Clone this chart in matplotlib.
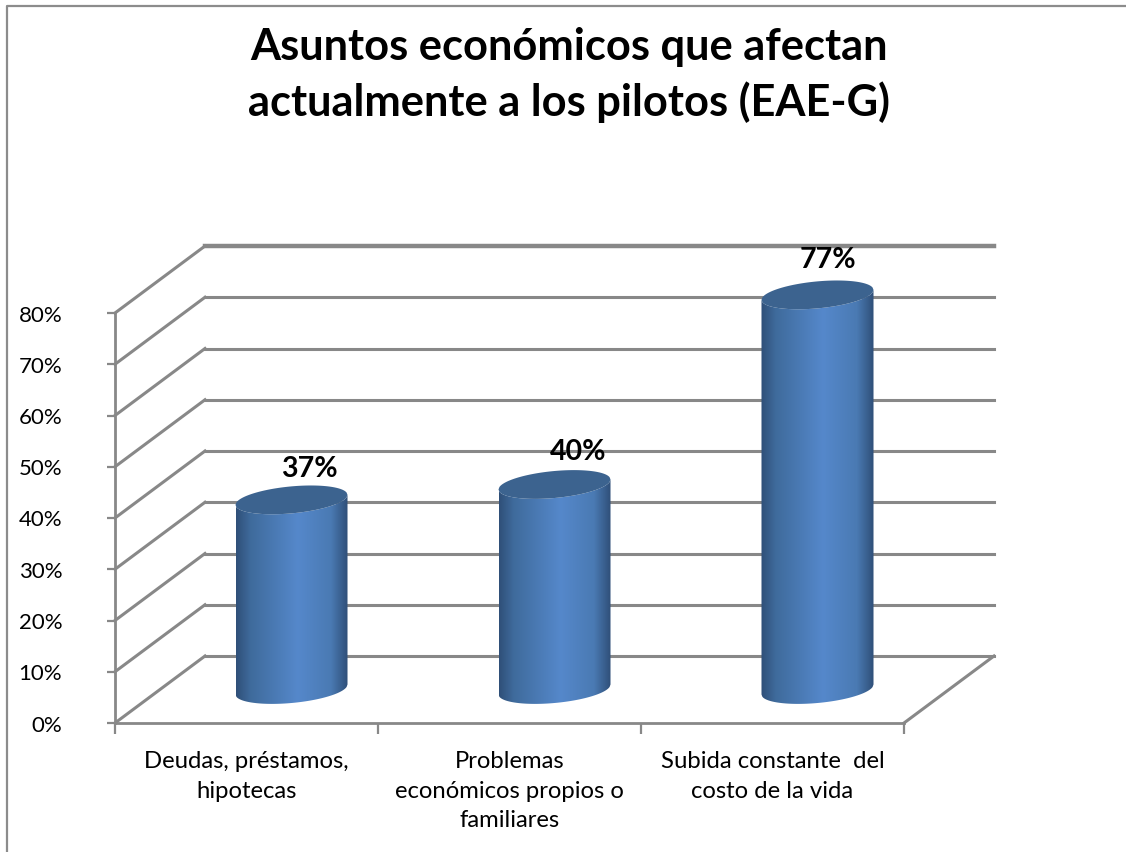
import numpy as np
import matplotlib
matplotlib.use("Agg")
import matplotlib.pyplot as plt
from matplotlib.colors import LinearSegmentedColormap
from matplotlib.patches import PathPatch
from matplotlib.path import Path
from matplotlib.transforms import ScaledTranslation

plt.rcParams['font.family'] = ['Lato', 'DejaVu Sans']

categories = ["Deudas, préstamos,\nhipotecas",
              "Problemas\neconómicos propios o\nfamiliares",
              "Subida constante  del\ncosto de la vida"]
values = [37, 40, 77]
value_labels = ["37%", "40%", "77%"]
ticks = [0, 10, 20, 30, 40, 50, 60, 70, 80]
title = "Asuntos económicos que afectan\nactualmente a los pilotos (EAE-G)"

W, H = 1126, 852
GRID = "#888888"

# pixel scale of the front plane and depth of the 3d box
px_per_cat = 263.0
px_per_pct = 5.125
depth_x = 90 / px_per_cat
depth_y = 67 / px_per_pct

fig = plt.figure(figsize=(W / 100, H / 100), dpi=100)
ax = fig.add_axes([115 / W, 1 - 723 / H, (994 - 115) / W, (723 - 246) / H])
ax.patch.set_visible(False)

# outer chart frame
fig.add_artist(plt.Line2D([7.5 / W, 7.5 / W, 1], [0, 1 - 5.5 / H, 1 - 5.5 / H], color="#8c8c8c", lw=1.6))

# back wall and side wall
for t in ticks:
    lw = 3.2 if t == 80 else 2.2
    ax.plot([0, depth_x], [t, t + depth_y], color=GRID, lw=2.2, clip_on=False, zorder=1)
    ax.plot([depth_x, 3 + depth_x], [t + depth_y, t + depth_y], color=GRID, lw=lw, clip_on=False, zorder=1)
ax.plot([3, 3 + depth_x], [0, depth_y], color=GRID, lw=2.2, zorder=1, clip_on=False)

for spine in ["top", "right"]:
    ax.spines[spine].set_visible(False)
for spine in ["left", "bottom"]:
    ax.spines[spine].set_color(GRID)
    ax.spines[spine].set_linewidth(2.0)
ax.spines["left"].set_bounds(0, 80)
ax.spines["bottom"].set_bounds(0, 3)

ax.set_yticks(ticks)
ax.set_yticklabels([f"{t}%" for t in ticks], fontsize=16, color="black", va="center")
ax.set_xticks([0, 1, 2, 3])
ax.set_xticklabels([])
ax.set_xticks([0.5, 1.5, 2.5], minor=True)
ax.set_xticklabels(categories, minor=True, fontsize=17.2, linespacing=1.52, va="top")
ax.tick_params(axis="y", length=6, width=1.6, color=GRID, pad=32)
ax.tick_params(axis="x", which="major", length=8, width=1.6, color=GRID)
ax.tick_params(axis="x", which="minor", length=0, pad=20)

# nudge the y labels slightly below their ticks
nudge = ScaledTranslation(0, -2.5 / 100, fig.dpi_scale_trans)
for lab in ax.get_yticklabels():
    lab.set_transform(lab.get_transform() + nudge)

body_cmap = LinearSegmentedColormap.from_list(
    "cyl", [(0, "#2f4f78"), (0.13, "#3f6b9c"), (0.55, "#5588cb"), (0.85, "#4a7ab3"), (1, "#2f4f78")])
gradient = np.linspace(0, 1, 256).reshape(1, -1)

half_w = 56 / px_per_cat
half_h = 13.5 / px_per_pct  # minor radius of the ellipse
tilt = 5 / px_per_pct  # right side of the ellipse sits higher


def ellipse_y(x_rel, sign):
    # y offset of the tilted ellipse edge, x_rel runs from -1 to 1
    return tilt * x_rel + sign * half_h * np.sqrt(np.clip(1 - x_rel ** 2, 0, 1))


def draw_cylinder(center, value):
    base = depth_y / 2
    top = base + value
    cx = center + depth_x / 2
    x_rel = np.linspace(-1, 1, 120)
    xs = cx + half_w * x_rel
    # body outline: front lower arc, then straight up and the top edge
    lower = np.column_stack([xs, base + ellipse_y(x_rel, -1)])
    upper = np.column_stack([xs[::-1], top + ellipse_y(x_rel[::-1], -1)])
    verts = np.vstack([lower, upper, lower[:1]])
    codes = [Path.MOVETO] + [Path.LINETO] * (len(verts) - 2) + [Path.CLOSEPOLY]
    outline = PathPatch(Path(verts, codes), fc="none", ec="none", transform=ax.transData)
    ax.add_patch(outline)
    im = ax.imshow(gradient, cmap=body_cmap, aspect="auto", zorder=3, interpolation="bilinear",
                   extent=[cx - half_w, cx + half_w, base - half_h - tilt, top + half_h + tilt])
    im.set_clip_path(outline)
    # top cap
    cap_verts = np.vstack([
        np.column_stack([xs, top + ellipse_y(x_rel, -1)]),
        np.column_stack([xs[::-1], top + ellipse_y(x_rel[::-1], 1)]),
    ])
    ax.fill(cap_verts[:, 0], cap_verts[:, 1], color="#3c638f", lw=0, zorder=4)


for i, v in enumerate(values):
    draw_cylinder(i + 0.5, v)

ax.set_xlim(0, 3 + depth_x)
ax.set_ylim(0, 80 + depth_y)

# data labels sit a little above and to the right of each cap
label_dx = [0.24, 0.26, 0.21]
label_dy = [12.5, 12.9, 13.4]
for i, v in enumerate(values):
    ax.text(i + 0.5 + label_dx[i], v + label_dy[i], value_labels[i], ha="center", va="center",
            fontsize=20.5, fontweight="bold", color="black", zorder=5, clip_on=False)

fig.text(569 / W, 1 - 75 / H, title, ha="center", va="center", fontsize=31.2, fontweight="bold",
         color="black", linespacing=1.42)

fig.savefig("out.png", dpi=100)
